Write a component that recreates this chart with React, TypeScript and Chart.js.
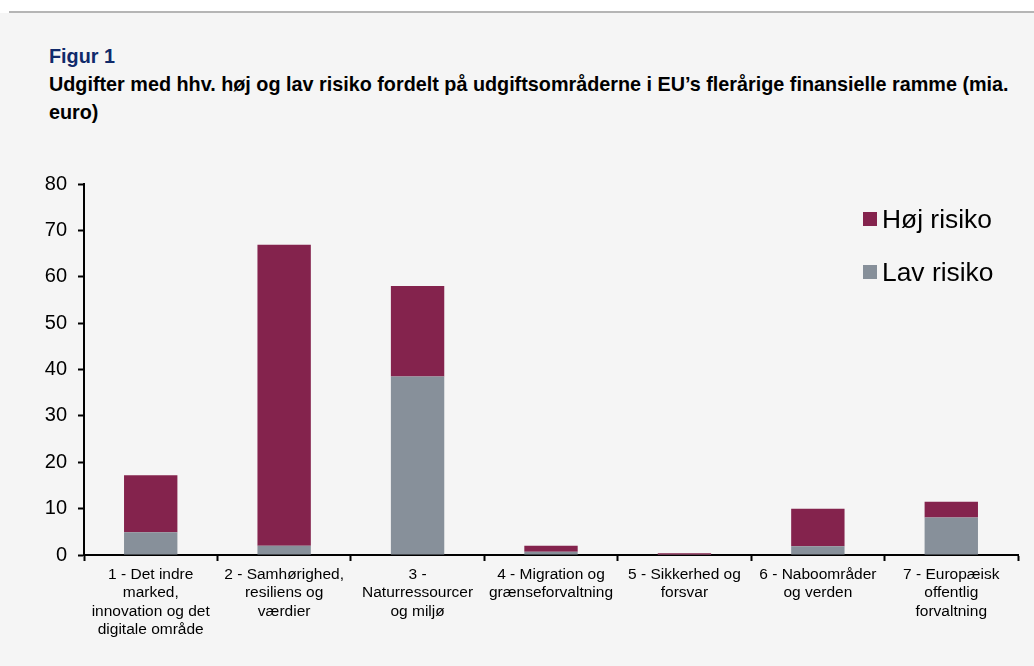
import React, { useEffect, useRef } from "react";
import { Chart, registerables } from "chart.js";

Chart.register(...registerables);

const categories: string[][] = [
  ["1 - Det indre", "marked,", "innovation og det", "digitale område"],
  ["2 - Samhørighed,", "resiliens og", "værdier"],
  ["3 -", "Naturressourcer", "og miljø"],
  ["4 - Migration og", "grænseforvaltning"],
  ["5 - Sikkerhed og", "forsvar"],
  ["6 - Naboområder", "og verden"],
  ["7 - Europæisk", "offentlig", "forvaltning"],
];

const lavRisiko: number[] = [4.9, 2.0, 38.5, 0.7, 0.05, 1.9, 8.1];
const hojRisiko: number[] = [12.3, 64.9, 19.5, 1.3, 0.35, 8.1, 3.4];

const seriesNames = { hoj: "Høj risiko", lav: "Lav risiko" };
const colors = { hoj: "#84234D", lav: "#87909A" };

const yMin = 0;
const yMax = 80;
const yStep = 10;

const FONT = "'Liberation Sans', Arial, Helvetica, sans-serif";

export default function App() {
  const canvasRef = useRef<HTMLCanvasElement | null>(null);

  useEffect(() => {
    const canvas = canvasRef.current;
    if (!canvas) return;
    const chart = new Chart(canvas, {
      type: "bar",
      data: {
        labels: categories,
        datasets: [
          {
            label: seriesNames.lav,
            data: lavRisiko,
            backgroundColor: colors.lav,
            borderWidth: 0,
            categoryPercentage: 0.8,
            barPercentage: 0.5,
          },
          {
            label: seriesNames.hoj,
            data: hojRisiko,
            backgroundColor: colors.hoj,
            borderWidth: 0,
            categoryPercentage: 0.8,
            barPercentage: 0.5,
          },
        ],
      },
      options: {
        animation: false,
        responsive: false,
        devicePixelRatio: 1,
        layout: { padding: { left: 0, right: 16, top: 14, bottom: 0 } },
        plugins: {
          legend: { display: false },
          tooltip: { enabled: false },
          title: { display: false },
        },
        scales: {
          x: {
            stacked: true,
            border: { display: true, color: "#000", width: 2 },
            grid: {
              display: true,
              offset: true,
              drawOnChartArea: false,
              drawTicks: true,
              tickLength: 6,
              tickWidth: 2,
              tickColor: "#000",
              color: "#000",
            },
            ticks: {
              autoSkip: false,
              maxRotation: 0,
              minRotation: 0,
              padding: 4,
              color: "#000",
              font: { family: FONT, size: 15.5, lineHeight: 1.2 },
            },
            afterFit: (s: any) => {
              s.height = 111;
            },
          },
          y: {
            stacked: true,
            min: yMin,
            max: yMax,
            border: { display: true, color: "#000", width: 2 },
            grid: {
              display: true,
              drawOnChartArea: false,
              drawTicks: true,
              tickLength: 6,
              tickWidth: 2,
              tickColor: "#000",
            },
            ticks: {
              stepSize: yStep,
              padding: 11,
              color: "#000",
              font: { family: FONT, size: 20 },
            },
            afterFit: (s: any) => {
              s.width = 84;
            },
          },
        },
      },
    });
    return () => chart.destroy();
  }, []);

  const legendItems = [
    { name: seriesNames.hoj, color: colors.hoj, top: 212 },
    { name: seriesNames.lav, color: colors.lav, top: 265 },
  ];

  return (
    <div
      style={{
        position: "fixed",
        left: 0,
        top: 0,
        width: 1034,
        height: 666,
        background: "#ffffff",
        overflow: "hidden",
        fontFamily: FONT,
      }}
    >
      <div
        style={{
          position: "absolute",
          left: 0,
          top: 13,
          width: 1034,
          height: 653,
          background: "#F5F5F5",
        }}
      />
      <div
        style={{
          position: "absolute",
          left: 9,
          top: 11,
          width: 1025,
          height: 2,
          background: "#B5B5B5",
        }}
      />
      <div
        style={{
          position: "absolute",
          left: 49,
          top: 42,
          fontSize: 19.8,
          lineHeight: "28px",
          fontWeight: 700,
          whiteSpace: "nowrap",
        }}
      >
        <div style={{ color: "#102A6B" }}>Figur 1</div>
        <div style={{ color: "#000" }}>
          Udgifter med hhv. høj og lav risiko fordelt på udgiftsområderne i EU’s flerårige finansielle ramme (mia.
          <br />
          euro)
        </div>
      </div>
      <canvas
        ref={canvasRef}
        width={1034}
        height={505}
        style={{ position: "absolute", left: 0, top: 161, width: 1034, height: 505 }}
      />
      {legendItems.map((it) => (
        <div key={it.name}>
          <div
            style={{
              position: "absolute",
              left: 863,
              top: it.top,
              width: 14,
              height: 14,
              background: it.color,
            }}
          />
          <div
            style={{
              position: "absolute",
              left: 882,
              top: it.top + 7 - 16,
              fontSize: 26.4,
              lineHeight: "32px",
              color: "#000",
              whiteSpace: "nowrap",
            }}
          >
            {it.name}
          </div>
        </div>
      ))}
    </div>
  );
}
